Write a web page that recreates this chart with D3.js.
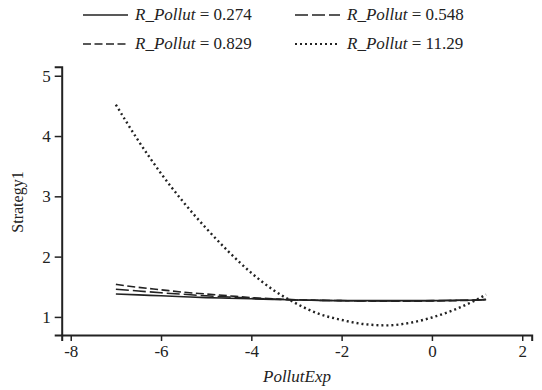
<!DOCTYPE html>
<html>
<head>
<meta charset="utf-8">
<script src="https://cdn.jsdelivr.net/npm/d3@7"></script>
</head>
<body style="margin:0">
<div id="chart"></div>
<script>
const width = 542, height = 390;

// x positions where curves were read
const xs = [-7, -6.5, -6, -5.5, -5, -4.5, -4, -3.5, -3, -2.5, -2, -1.5, -1, -0.5, 0, 0.5, 1, 1.2];

const r0274 = [1.38, 1.365, 1.35, 1.335, 1.32, 1.31, 1.30, 1.29, 1.28, 1.275, 1.27, 1.27, 1.27, 1.27, 1.27, 1.275, 1.28, 1.29];
const r0548 = [1.46, 1.43, 1.40, 1.375, 1.35, 1.33, 1.31, 1.295, 1.28, 1.275, 1.27, 1.265, 1.265, 1.265, 1.27, 1.275, 1.28, 1.29];
const r0829 = [1.54, 1.49, 1.45, 1.41, 1.38, 1.35, 1.32, 1.30, 1.285, 1.275, 1.27, 1.265, 1.26, 1.26, 1.265, 1.27, 1.28, 1.29];
const r1129 = [4.52, 3.92, 3.38, 2.90, 2.47, 2.08, 1.73, 1.44, 1.22, 1.05, 0.95, 0.88, 0.86, 0.90, 0.99, 1.12, 1.29, 1.37];

const seriesLabels = ["0.274", "0.548", "0.829", "11.29"];
const seriesValues = [r0274, r0548, r0829, r1129];
const dashes = [null, "13,4", "8,3.5", "2,3"];

const xTicks = [-8, -6, -4, -2, 0, 2];
const yTicks = [1, 2, 3, 4, 5];

const fontFam = "'Liberation Serif'";

const x = d3.scaleLinear().domain([-8.2, 2.21]).range([61.7, 531.7]);
const y = d3.scaleLinear().domain([0.7, 5.15]).range([335, 66.7]);

const svg = d3.select("#chart").append("svg")
    .attr("width", width)
    .attr("height", height);

// axes
const xAxis = svg.append("g")
    .attr("transform", `translate(0,${y.range()[0]})`)
    .call(d3.axisBottom(x).tickValues(xTicks).tickSize(6).tickPadding(4)
        .tickFormat(d => String(d)));

const yAxis = svg.append("g")
    .attr("transform", `translate(${x.range()[0]},0)`)
    .call(d3.axisLeft(y).tickValues(yTicks).tickSize(7).tickPadding(4)
        .tickFormat(d => String(d)));

[xAxis, yAxis].forEach(g => {
    g.attr("font-family", null).attr("font-size", null);
    g.select(".domain").attr("stroke", "#222").attr("stroke-width", 2);
    g.selectAll(".tick line").attr("stroke", "#222").attr("stroke-width", 1.5);
    g.selectAll(".tick text")
        .attr("fill", "#222")
        .style("font-family", fontFam)
        .style("font-size", "17px");
});

// axis titles
svg.append("text")
    .attr("x", 297)
    .attr("y", 382)
    .attr("text-anchor", "middle")
    .style("font-family", fontFam)
    .style("font-size", "17px")
    .style("font-style", "italic")
    .attr("fill", "#222")
    .text("PollutExp");

svg.append("text")
    .attr("transform", "translate(23,202) rotate(-90)")
    .attr("text-anchor", "middle")
    .style("font-family", fontFam)
    .style("font-size", "16px")
    .attr("fill", "#222")
    .text("Strategy1");

// lines
const line = d3.line()
    .x((d, i) => x(xs[i]))
    .y(d => y(d))
    .curve(d3.curveMonotoneX);

svg.append("g")
    .selectAll("path")
    .data(seriesValues)
    .join("path")
    .attr("d", d => line(d))
    .attr("fill", "none")
    .attr("stroke", "#222")
    .attr("stroke-width", (d, i) => i === 3 ? 2.4 : 1.6)
    .attr("stroke-dasharray", (d, i) => dashes[i]);

// legend
const legendPos = [[83, 15], [295, 15], [83, 44], [295, 44]];
const legend = svg.append("g")
    .selectAll("g")
    .data(seriesLabels)
    .join("g")
    .attr("transform", (d, i) => `translate(${legendPos[i][0]},${legendPos[i][1]})`);

legend.append("line")
    .attr("x1", 0).attr("x2", 45)
    .attr("y1", 0).attr("y2", 0)
    .attr("stroke", "#222")
    .attr("stroke-width", (d, i) => i === 3 ? 2 : 1.6)
    .attr("stroke-dasharray", (d, i) => dashes[i]);

const lt = legend.append("text")
    .attr("x", 52)
    .attr("y", 5)
    .style("font-family", fontFam)
    .style("font-size", "17px")
    .attr("fill", "#222");
lt.append("tspan").style("font-style", "italic").text("R_Pollut");
lt.append("tspan").text(d => " = " + d);
</script>
</body>
</html>
